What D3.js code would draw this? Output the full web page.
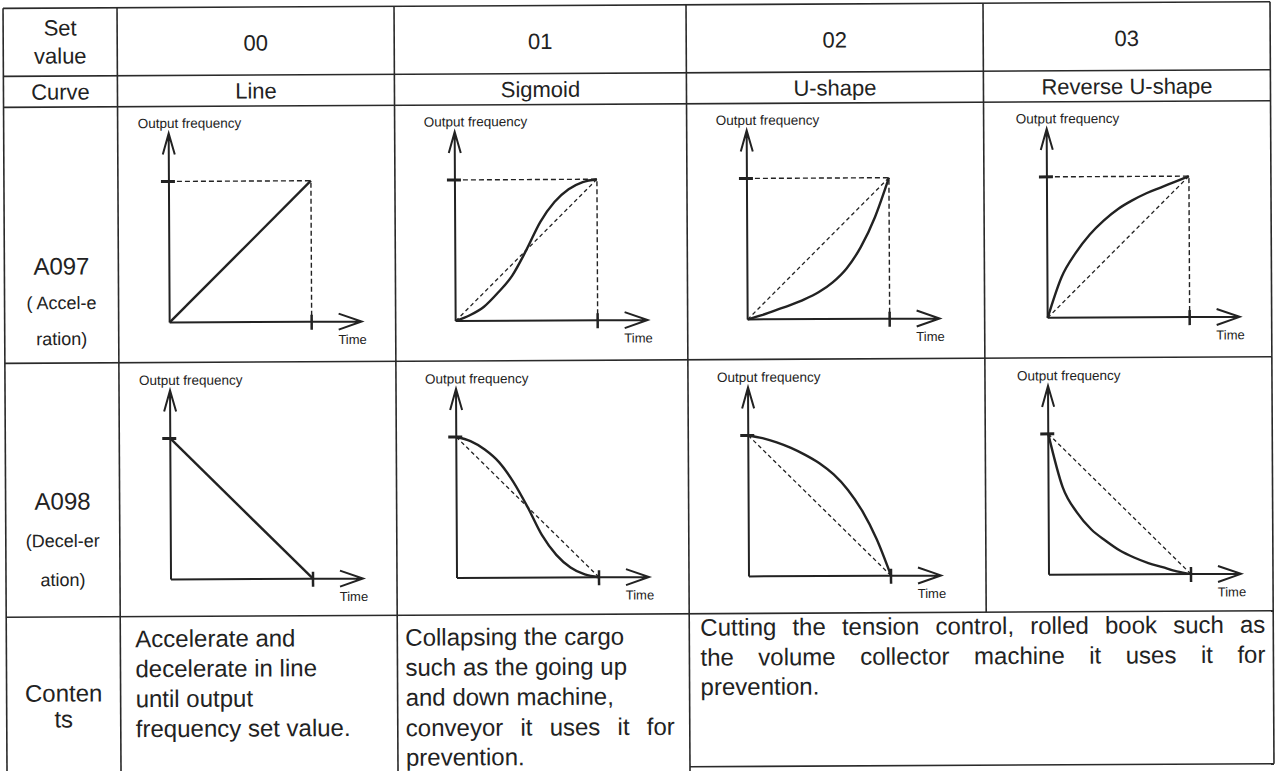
<!DOCTYPE html>
<html>
<head>
<meta charset="utf-8">
<script src="https://cdn.jsdelivr.net/npm/d3@7"></script>
<style>
  body { margin: 0; background: #fff; }
  svg { display: block; }
  text { font-family: "Liberation Sans", Arial, sans-serif; fill: #222; }
</style>
</head>
<body>
<div class="chart"></div>
<script>
var svgWidth = 1277;
var svgHeight = 771;

// table texts
var setValues = ["00", "01", "02", "03"];
var curveNames = ["Line", "Sigmoid", "U-shape", "Reverse U-shape"];
var headerLabel = ["Set", "value"];
var accelLabel = ["A097", "( Accel-e", "ration)"];
var decelLabel = ["A098", "(Decel-er", "ation)"];
var contentsLabel = ["Conten", "ts"];
var contentsText = [
  ["Accelerate and", "decelerate in line", "until output", "frequency set value."],
  ["Collapsing the cargo", "such as the going up", "and down machine,", "conveyor it uses it for", "prevention."],
  ["Cutting the tension control, rolled book such as", "the volume collector machine it uses it for", "prevention."]
];
// which lines of each contents cell are stretched to full width
var justifiedLines = [[], [3], [0, 1]];

// curves: [time, output frequency] as fraction of set value
var lineAccel = [[0, 0], [1, 1]];
var lineDecel = [[0, 1], [1, 0]];
var sigmoidAccel = [[0, 0], [0.1, 0.04], [0.2, 0.1], [0.3, 0.2], [0.4, 0.32], [0.5, 0.5], [0.6, 0.7], [0.7, 0.84], [0.8, 0.93], [0.9, 0.98], [1, 1]];
var sigmoidDecel = [[0, 1], [0.1, 0.97], [0.2, 0.91], [0.3, 0.82], [0.4, 0.68], [0.5, 0.5], [0.6, 0.3], [0.7, 0.16], [0.8, 0.07], [0.9, 0.02], [1, 0]];
var uShapeAccel = [[0, 0], [0.1, 0.03], [0.2, 0.065], [0.3, 0.1], [0.4, 0.14], [0.5, 0.19], [0.6, 0.26], [0.7, 0.36], [0.8, 0.51], [0.9, 0.72], [1, 1]];
var uShapeDecel = [[0, 1], [0.1, 0.98], [0.2, 0.95], [0.3, 0.91], [0.4, 0.86], [0.5, 0.8], [0.6, 0.72], [0.7, 0.61], [0.8, 0.46], [0.9, 0.26], [1, 0]];
var revUAccel = [[0, 0], [0.1, 0.29], [0.2, 0.46], [0.3, 0.59], [0.4, 0.69], [0.5, 0.77], [0.6, 0.83], [0.7, 0.88], [0.8, 0.92], [0.9, 0.96], [1, 1]];
var revUDecel = [[0, 1], [0.1, 0.62], [0.2, 0.44], [0.3, 0.32], [0.4, 0.24], [0.5, 0.17], [0.6, 0.12], [0.7, 0.08], [0.8, 0.05], [0.9, 0.02], [1, 0]];

var accelCurves = [lineAccel, sigmoidAccel, uShapeAccel, revUAccel];
var decelCurves = [lineDecel, sigmoidDecel, uShapeDecel, revUDecel];

// table grid
var colX = [5, 119, 396, 688, 985, 1272];
var rowY = [5, 73, 104, 360, 614];
var tableBottom = 790;
var col3Bottom = 767;

// chart placement in each cell
var axisX = [170, 456, 748, 1048];
var originY = [320, 577];
var chartW = 142;
var chartH = 141;

var ink = "#222";

var svg = d3.select(".chart")
  .append("svg")
  .attr("width", svgWidth)
  .attr("height", svgHeight);

// the scanned page is slightly tilted
var page = svg.append("g").attr("transform", "rotate(-0.3, 640, 385)");

// grid lines
var grid = page.append("g").attr("stroke", "#2a2a2a").attr("stroke-width", 1.6);
colX.forEach(function(x, i) {
  // the 02 / 03 columns are merged in the contents row
  var bottom = i === 4 ? rowY[4] : tableBottom;
  if (i === 5) bottom = col3Bottom;
  grid.append("line").attr("x1", x).attr("x2", x).attr("y1", rowY[0]).attr("y2", bottom);
});
rowY.forEach(function(y) {
  grid.append("line").attr("x1", colX[0]).attr("x2", colX[5]).attr("y1", y).attr("y2", y);
});
grid.append("line").attr("x1", colX[3]).attr("x2", colX[5]).attr("y1", col3Bottom).attr("y2", col3Bottom);

function label(x, y, str, size, anchor) {
  return page.append("text")
    .attr("x", x).attr("y", y)
    .attr("font-size", size)
    .attr("text-anchor", anchor || "middle")
    .attr("dominant-baseline", "central")
    .text(str);
}

// spread words so the line fills the given width
function justify(x, y, str, size, width) {
  var words = str.split(" ");
  var t = page.append("text").attr("y", y).attr("font-size", size).attr("dominant-baseline", "central");
  var spans = words.map(function(w) { return t.append("tspan").text(w); });
  var widths = spans.map(function(s) { return s.node().getComputedTextLength(); });
  var gap = (width - d3.sum(widths)) / (words.length - 1);
  var cx = x;
  spans.forEach(function(s, i) {
    s.attr("x", cx);
    cx += widths[i] + gap;
  });
}

var labelX = (colX[0] + colX[1]) / 2;

// header rows
label(labelX, 25, headerLabel[0], 22);
label(labelX, 53, headerLabel[1], 22);
label(labelX, 89, "Curve", 22);
setValues.forEach(function(v, i) {
  var cx = (colX[i + 1] + colX[i + 2]) / 2;
  label(cx, 41, v, 22);
  label(cx, 89, curveNames[i], 22);
});

// row labels
label(labelX, 263, accelLabel[0], 24);
label(labelX, 300, accelLabel[1], 18);
label(labelX, 336, accelLabel[2], 18);
label(labelX, 498, decelLabel[0], 24);
label(labelX, 538, decelLabel[1], 18);
label(labelX, 577, decelLabel[2], 18);
label(labelX, 690, contentsLabel[0], 24);
label(labelX, 716, contentsLabel[1], 24);

// contents texts
var contentsX = [134, 404, 699];
var contentsY = [636, 636, 627];
var contentsRight = [390, 673, 1264];
var lineGap = 30;
contentsText.forEach(function(lines, c) {
  lines.forEach(function(str, i) {
    var y = contentsY[c] + i * lineGap;
    if (justifiedLines[c].indexOf(i) >= 0) {
      justify(contentsX[c], y, str, 24, contentsRight[c] - contentsX[c]);
    } else {
      label(contentsX[c], y, str, 24, "start");
    }
  });
});

// one small frequency / time chart
function drawChart(col, row, data) {
  var decel = row === 1;
  var ax = axisX[col];
  var oy = originY[row];
  var x = d3.scaleLinear().domain([0, 1]).range([ax, ax + chartW]);
  var y = d3.scaleLinear().domain([0, 1]).range([oy, oy - chartH]);
  var g = page.append("g").attr("fill", "none").attr("stroke", ink);

  label(ax - 31, oy - 199, "Output frequency", 13.5, "start");
  label(ax + 197, oy + 18, "Time", 13, "end");

  // axes with open arrow heads
  var tipY = oy - 189;
  var tipX = ax + 192;
  g.append("path").attr("stroke-width", 2)
    .attr("d", "M" + ax + "," + oy + "V" + tipY + "M" + (ax - 6) + "," + (tipY + 21) + "L" + ax + "," + tipY + "L" + (ax + 6) + "," + (tipY + 21));
  g.append("path").attr("stroke-width", 2)
    .attr("d", "M" + ax + "," + oy + "H" + tipX + "M" + (tipX - 23) + "," + (oy - 8) + "L" + tipX + "," + oy + "L" + (tipX - 23) + "," + (oy + 8));

  // set value box (acceleration only)
  if (!decel) {
    g.append("path").attr("stroke-width", 1.4).attr("stroke-dasharray", "5,3")
      .attr("d", "M" + x(0) + "," + y(1) + "H" + x(1) + "V" + y(0));
  }
  // linear reference
  if (col > 0) {
    var ref = decel ? [[0, 1], [1, 0]] : [[0, 0], [1, 1]];
    g.append("path").attr("stroke-width", 1.3).attr("stroke-dasharray", "4,3")
      .attr("d", d3.line().x(function(d) { return x(d[0]); }).y(function(d) { return y(d[1]); })(ref));
  }

  g.append("path").attr("stroke-width", 2.4)
    .attr("d", d3.line()
      .x(function(d) { return x(d[0]); })
      .y(function(d) { return y(d[1]); })
      .curve(d3.curveMonotoneX)(data));

  // ticks at set value and at set time
  g.append("line").attr("stroke-width", 3)
    .attr("x1", ax - 8).attr("x2", ax + 6).attr("y1", y(1)).attr("y2", y(1));
  g.append("line").attr("stroke-width", 2.5)
    .attr("x1", x(1)).attr("x2", x(1)).attr("y1", oy - 7).attr("y2", oy + 8);
}

accelCurves.forEach(function(d, i) { drawChart(i, 0, d); });
decelCurves.forEach(function(d, i) { drawChart(i, 1, d); });
</script>
</body>
</html>
